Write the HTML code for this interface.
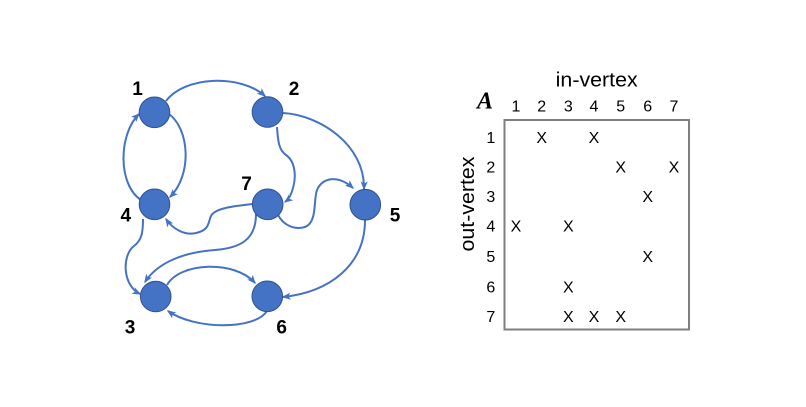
<!DOCTYPE html>
<html>
<head>
<meta charset="utf-8">
<style>
html,body{margin:0;padding:0;background:#fff;}
svg{display:block;}
</style>
</head>
<body>
<svg width="806" height="407" viewBox="0 0 806 407" xmlns="http://www.w3.org/2000/svg">
<defs>
<marker id="ah" viewBox="0 0 10 8" markerUnits="userSpaceOnUse" markerWidth="9" markerHeight="7.5" refX="8.5" refY="4" orient="auto">
<path d="M0,0 L10,4 L0,8 L2.5,4 z" fill="#4472C4"/>
</marker>
</defs>
<rect width="806" height="407" fill="#fff"/>
<g fill="none" stroke="#4472C4" stroke-width="2" marker-end="url(#ah)">
<!-- 1->2 -->
<path d="M166,101 C185,76 240,74 265,96"/>
<!-- 1->4 -->
<path d="M169,114 C190,130 192,175 170,197"/>
<!-- 4->1 -->
<path d="M141,200 C118,185 118,135 139,114"/>
<!-- 2->7 -->
<path d="M277,127 C278,142 279,150 286,155 C296,162 296,178 293,188 C291,195 289,199 285,202"/>
<!-- 2->5 -->
<path d="M283,113 C320,115 365,145 364,189"/>
<!-- 7->5 -->
<path d="M278,215 C284,226 295,230 305,227 C316,223 314,205 316,194 C318,180 335,172 353,188"/>
<!-- 7->4 -->
<path d="M253,204 C235,206 215,208 211,216 C208,222 210,230 196,233 C184,236 172,228 166,219"/>
<!-- 7->3 -->
<path d="M256,214 C256,240 240,248 215,250 C185,252 158,262 145,282"/>
<!-- 4->3 -->
<path d="M143,219 C143,232 142,240 134,246 C122,255 122,285 140,294"/>
<!-- 3->6 -->
<path d="M167,285 C180,262 235,260 255,283"/>
<!-- 6->3 -->
<path d="M267,311 C255,330 195,330 168,311"/>
<!-- 5->6 -->
<path d="M365,220 C365,265 330,292 283,297"/>
</g>
<g fill="#4472C4" stroke="#2F528F" stroke-width="1">
<circle cx="154.5" cy="112.3" r="15.3"/>
<circle cx="267.5" cy="112" r="15.3"/>
<circle cx="154.5" cy="204.3" r="15.3"/>
<circle cx="267.7" cy="204.3" r="15.3"/>
<circle cx="365.3" cy="204.7" r="15.3"/>
<circle cx="155.7" cy="296.5" r="15.3"/>
<circle cx="267.3" cy="296.3" r="15.3"/>
</g>
<g font-family="Liberation Sans, sans-serif" font-weight="bold" font-size="19" fill="#000" text-anchor="middle">
<text x="137.5" y="95">1</text>
<text x="294" y="95">2</text>
<text x="246.5" y="190">7</text>
<text x="125.8" y="221.7">4</text>
<text x="395" y="221.7">5</text>
<text x="130" y="333.3">3</text>
<text x="281.7" y="333.3">6</text>
</g>
<!-- matrix -->
<rect x="504.5" y="120" width="184.5" height="209.5" fill="none" stroke="#7f7f7f" stroke-width="2"/>
<text x="485" y="108.3" font-family="Liberation Serif, serif" font-weight="bold" font-style="italic" font-size="24" text-anchor="middle">A</text>
<text x="596.7" y="86.7" font-family="Liberation Sans, sans-serif" font-size="20" text-anchor="middle" textLength="82" lengthAdjust="spacingAndGlyphs">in-vertex</text>
<text transform="translate(474,204) rotate(-90)" font-family="Liberation Sans, sans-serif" font-size="20" text-anchor="middle" textLength="95" lengthAdjust="spacingAndGlyphs">out-vertex</text>
<g font-family="Liberation Sans, sans-serif" font-size="16" fill="#000" text-anchor="middle">
<text x="516" y="111.7">1</text>
<text x="541.7" y="111.7">2</text>
<text x="568.3" y="111.7">3</text>
<text x="594" y="111.7">4</text>
<text x="620.7" y="111.7">5</text>
<text x="647.7" y="111.7">6</text>
<text x="674" y="111.7">7</text>

<text x="490.8" y="143.2">1</text>
<text x="490.8" y="172.5">2</text>
<text x="490.8" y="201.8">3</text>
<text x="490.8" y="231.5">4</text>
<text x="490.8" y="261.8">5</text>
<text x="490.8" y="292.5">6</text>
<text x="490.8" y="321.8">7</text>

<!-- row 1 -->
<text x="541.7" y="143.2">X</text>
<text x="594" y="143.2">X</text>
<!-- row 2 -->
<text x="620.7" y="172.5">X</text>
<text x="674" y="172.5">X</text>
<!-- row 3 -->
<text x="647.7" y="201.8">X</text>
<!-- row 4 -->
<text x="516" y="231.5">X</text>
<text x="568.3" y="231.5">X</text>
<!-- row 5 -->
<text x="647.7" y="261.8">X</text>
<!-- row 6 -->
<text x="568.3" y="292.5">X</text>
<!-- row 7 -->
<text x="568.3" y="321.8">X</text>
<text x="594" y="321.8">X</text>
<text x="620.7" y="321.8">X</text>
</g>
</svg>
</body>
</html>
